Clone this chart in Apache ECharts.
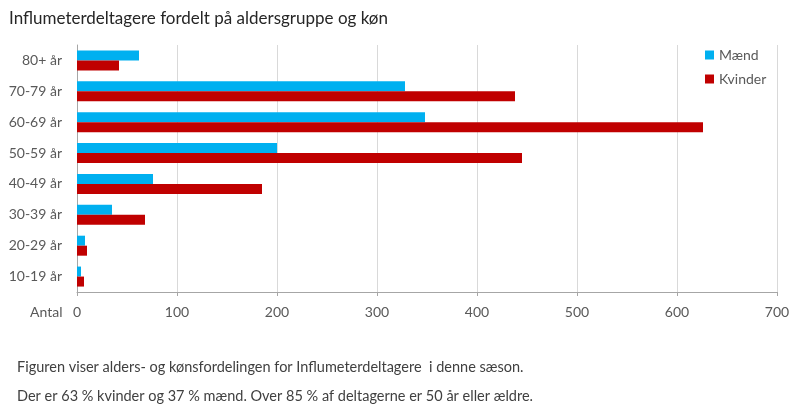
<!DOCTYPE html>
<html>
<head>
<meta charset="utf-8">
<script src="https://cdn.jsdelivr.net/npm/echarts@6/dist/echarts.min.js"></script>
<style>
  html, body { margin: 0; padding: 0; background: #fff; }
  #chart { width: 800px; height: 410px; }
</style>
</head>
<body>
<div id="chart"></div>
<script>
var categories = ['80+ år', '70-79 år', '60-69 år', '50-59 år', '40-49 år', '30-39 år', '20-29 år', '10-19 år'];
var maend = [62, 328, 348, 200, 76, 35, 8, 4];
var kvinder = [42, 438, 626, 445, 185, 68, 10, 7];
var xTicks = { min: 0, max: 700, interval: 100 };

var font = 'Lato, "Noto Sans", sans-serif';
var chart = echarts.init(document.getElementById('chart'));
var option = {
    textStyle: { fontFamily: font },
    title: [{
        text: 'Influmeterdeltagere fordelt på aldersgruppe og køn',
        left: 4,
        top: 5,
        textStyle: { fontFamily: font, fontSize: 17, fontWeight: 'normal', color: '#262626' }
    }, {
        text: 'Antal',
        left: 25,
        top: 300,
        textStyle: { fontFamily: font, fontSize: 14, fontWeight: 'normal', color: '#595959' }
    }, {
        text: 'Figuren viser alders- og kønsfordelingen for Influmeterdeltagere  i denne sæson.',
        left: 12,
        top: 355,
        textStyle: { fontFamily: font, fontSize: 14.5, fontWeight: 'normal', color: '#404040' }
    }, {
        text: 'Der er 63 % kvinder og 37 % mænd. Over 85 % af deltagerne er 50 år eller ældre.',
        left: 12,
        top: 384,
        textStyle: { fontFamily: font, fontSize: 14.5, fontWeight: 'normal', color: '#404040' }
    }],
    legend: {
        orient: 'vertical',
        left: 700,
        top: 43,
        itemWidth: 9,
        itemHeight: 9,
        itemGap: 10,
        icon: 'rect',
        textStyle: { fontFamily: font, fontSize: 14, color: '#595959' },
        data: ['Mænd', 'Kvinder']
    },
    grid: {
        left: 77,
        right: 23,
        top: 45,
        bottom: 118,
        containLabel: false
    },
    xAxis: {
        type: 'value',
        min: xTicks.min,
        max: xTicks.max,
        interval: xTicks.interval,
        axisLine: { show: true, lineStyle: { color: '#a6a6a6' } },
        axisTick: { show: true, length: 4, lineStyle: { color: '#a6a6a6' } },
        axisLabel: { fontFamily: font, fontSize: 14, color: '#595959', margin: 13 },
        splitLine: { show: true, lineStyle: { color: '#d9d9d9' } }
    },
    yAxis: {
        type: 'category',
        inverse: true,
        data: categories,
        axisLine: { show: true, lineStyle: { color: '#a6a6a6' } },
        axisTick: { show: false },
        axisLabel: { fontFamily: font, fontSize: 14, color: '#595959', margin: 15 }
    },
    series: [{
        name: 'Mænd',
        type: 'bar',
        data: maend,
        barWidth: 10,
        barGap: '0%',
        itemStyle: { color: '#00b0f0' }
    }, {
        name: 'Kvinder',
        type: 'bar',
        data: kvinder,
        barWidth: 10,
        barGap: '0%',
        itemStyle: { color: '#c00000' }
    }]
};
chart.setOption(option);
window.addEventListener('resize', function () { chart.resize(); });
</script>
</body>
</html>
